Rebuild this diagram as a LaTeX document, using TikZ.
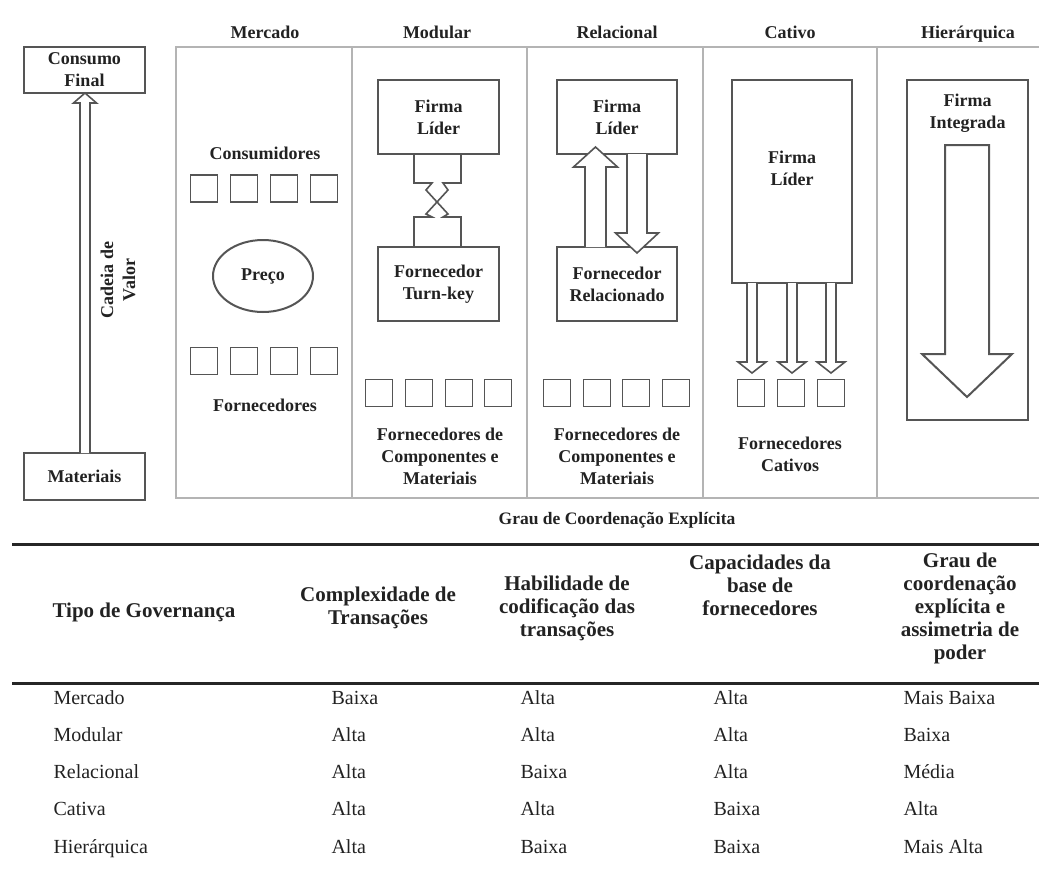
\documentclass[tikz,border=0pt]{standalone}
\usepackage{fontspec}
\setmainfont{Liberation Serif}
\usetikzlibrary{shapes.geometric}
\definecolor{traco}{HTML}{555555}
\definecolor{painel}{HTML}{B4B4B4}
\definecolor{texto}{HTML}{222222}
\tikzset{
  rot/.style={font=\fontsize{18}{22}\selectfont\bfseries, text=texto, align=center},
  caixa/.style={rot, draw=traco, line width=2pt, minimum width=121pt, minimum height=74pt, inner sep=0pt},
  quad/.style={draw=traco, line width=1.6pt, minimum size=27pt, inner sep=0pt},
  seta/.style={draw=traco, line width=1.6pt, fill=white},
  cab/.style={font=\fontsize{21}{23}\selectfont\bfseries, text=texto, align=center},
  cel/.style={font=\fontsize{20}{23}\selectfont, text=texto, anchor=base west},
}

\begin{document}
\begin{tikzpicture}[x=1pt,y=-1pt]
\useasboundingbox (0,0) rectangle (1039,868);
\def\seta#1#2#3#4#5#6{\filldraw[seta] ({#1-#5},#2) -- ({#1-#5},#3) -- ({#1-#6},#3) -- (#1,#4) -- ({#1+#6},#3) -- ({#1+#5},#3) -- ({#1+#5},#2);}
\draw[painel, line width=2.5pt] (1039,47) -- (176,47) -- (176,498) -- (1039,498);
\foreach \x in {352,527,703,877} \draw[painel, line width=2.5pt] (\x,47) -- (\x,498);
\node[rot, anchor=base] (hmercado) at (265,38) {Mercado};
\node[rot, anchor=base] (hmodular) at (437,38) {Modular};
\node[rot, anchor=base] (hrelacional) at (617,38) {Relacional};
\node[rot, anchor=base] (hcativo) at (790,38) {Cativo};
\node[rot, anchor=base] (hhierarquica) at (968,38) {Hierárquica};
\node[caixa, minimum height=46pt] (consumo) at (84.5,70) {Consumo\\Final};
\node[caixa, minimum height=47pt] (materiais) at (84.5,476.5) {Materiais};
\seta{85}{453}{103}{93}{5}{11.5}
\node[rot, rotate=90] (cadeia) at (118,280) {Cadeia de\\Valor};
\node[rot] (consumidores) at (265,153) {Consumidores};
\foreach \i/\x in {1/204,2/244,3/284,4/324} {
  \node[quad] (cons\i) at (\x,188.5) {};
  \node[quad] (forn\i) at (\x,361) {};
}
\node[rot, draw=traco, line width=2pt, ellipse, minimum width=100pt, minimum height=72pt] (preco) at (263,276) {Preço};
\node[rot] (fornecedores) at (265,405) {Fornecedores};
\node[caixa] (lidermod) at (438.5,117) {Firma\\Líder};
\node[caixa] (turnkey) at (438.5,284) {Fornecedor\\Turn-key};
\draw[traco, line width=1.6pt] (414,154) -- (414,183) -- (432,183) -- (426,190) -- (448,214) -- (443,217) -- (461,217) -- (461,247);
\draw[traco, line width=1.6pt] (461,154) -- (461,183) -- (443,183) -- (448,190) -- (426,214) -- (432,217) -- (414,217) -- (414,247);
\foreach \i/\x in {1/379,2/419,3/459,4/498} \node[quad] (fmod\i) at (\x,393) {};
\node[rot] (fcmod) at (440,456) {Fornecedores de\\Componentes e\\Materiais};
\node[caixa, minimum width=120pt] (liderrel) at (617,117) {Firma\\Líder};
\node[caixa, minimum width=120pt] (relacionado) at (617,284) {Fornecedor\\Relacionado};
\seta{595.5}{247}{167}{147}{10.5}{22}
\seta{637}{154}{233}{253}{10}{21.5}
\foreach \i/\x in {1/557,2/597,3/636,4/676} \node[quad] (frel\i) at (\x,393) {};
\node[rot] (fcrel) at (617,456) {Fornecedores de\\Componentes e\\Materiais};
\node[caixa, minimum width=120pt, minimum height=203pt] (lidercat) at (792,181.5) {};
\node[rot] (lidercattxt) at (792,168.5) {Firma\\Líder};
\foreach \x in {752,792,831} \seta{\x}{283}{362}{373}{5}{14}
\foreach \i/\x in {1/751,2/791,3/831} \node[quad] (fcat\i) at (\x,393) {};
\node[rot] (fcativos) at (790,454) {Fornecedores\\Cativos};
\node[caixa, minimum height=340pt] (integrada) at (967.5,250) {};
\node[rot] (integradatxt) at (967.5,113) {Firma\\Integrada};
\filldraw[seta, line width=2pt] (945,145) -- (945,354) -- (922,354) -- (967,397) -- (1012,354) -- (989,354) -- (989,145) -- cycle;
\node[font=\fontsize{17.5}{19}\selectfont\bfseries, text=texto] (grau) at (617,520) {Grau de Coordenação Explícita};
\draw[line width=3pt, black!85] (12,544) -- (1039,544);
\draw[line width=3pt, black!85] (12,683) -- (1039,683);
\node[cab] (ctipo) at (144,612) {Tipo de Governança};
\node[cab] (ccomplex) at (378,608) {Complexidade de\\Transações};
\node[cab] (chabil) at (567,608) {Habilidade de\\codificação das\\transações};
\node[cab] (ccapac) at (760,585) {Capacidades da\\base de\\fornecedores};
\node[cab] (cgrau) at (960,608) {Grau de\\coordenação\\explícita e\\assimetria de\\poder};
\foreach \y/\a/\b/\c/\d/\e in {704/Mercado/Baixa/Alta/Alta/Mais Baixa, 741/Modular/Alta/Alta/Alta/Baixa, 778/Relacional/Alta/Baixa/Alta/Média, 815/Cativa/Alta/Alta/Baixa/Alta, 853/Hierárquica/Alta/Baixa/Baixa/Mais Alta} {
  \node[cel] (tipo\y) at (50,\y) {\a};
  \node[cel] (complex\y) at (328,\y) {\b};
  \node[cel] (habil\y) at (517,\y) {\c};
  \node[cel] (capac\y) at (710,\y) {\d};
  \node[cel] (grau\y) at (900,\y) {\e};
}
\end{tikzpicture}
\end{document}
